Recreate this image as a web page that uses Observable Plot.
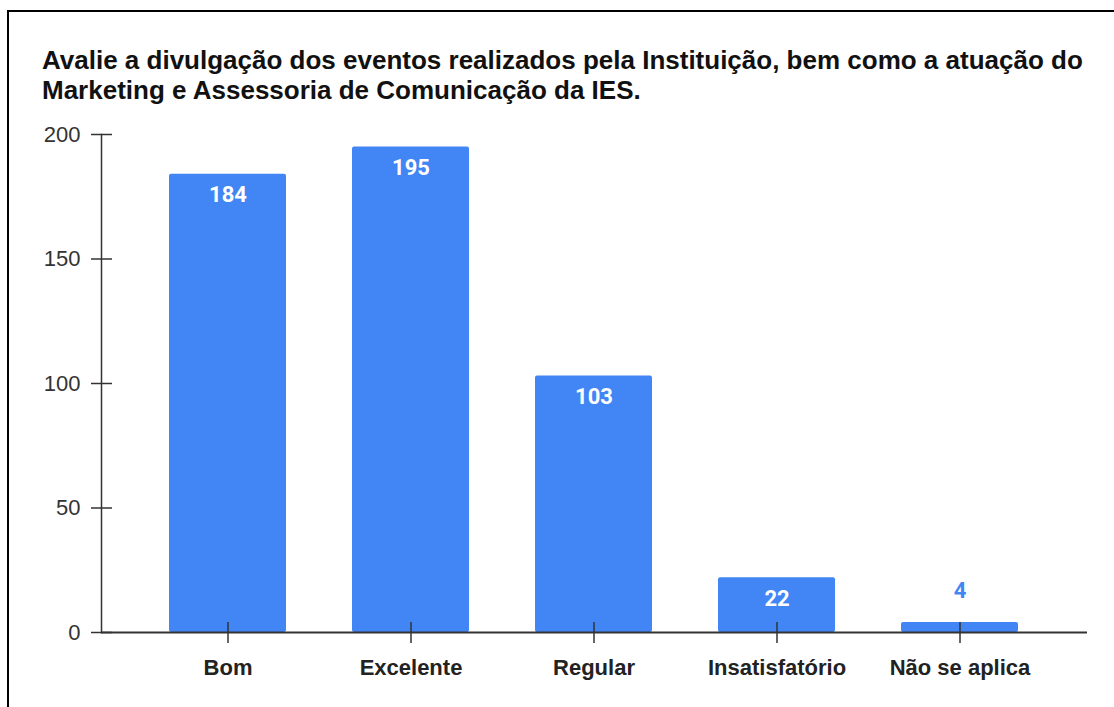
<!DOCTYPE html>
<html>
<head>
<meta charset="utf-8">
<script src="https://cdn.jsdelivr.net/npm/d3@7"></script>
<script src="https://cdn.jsdelivr.net/npm/@observablehq/plot@0.6"></script>
<style>
  html, body { margin: 0; padding: 0; background: #fff; }
  #wrap { position: relative; width: 1114px; height: 707px; overflow: hidden; background: #fff; }
  #bt { position: absolute; left: 7px; top: 10px; right: 0; height: 2px; background: #000; }
  #bl { position: absolute; left: 7px; top: 10px; bottom: 0; width: 2px; background: #000; }
  #title { position: absolute; left: 42px; top: 45px; font-family: "Liberation Sans", Arial, sans-serif; font-weight: bold; font-size: 26px; line-height: 30px; color: #111; white-space: nowrap; }
  #chart { position: absolute; left: 0; top: 0; }
</style>
</head>
<body>
<div id="wrap">
  <div id="bt"></div>
  <div id="bl"></div>
  <div id="title">Avalie a divulgação dos eventos realizados pela Instituição, bem como a atuação do<br>Marketing e Assessoria de Comunicação da IES.</div>
  <div id="chart"></div>
</div>
<script>
const categories = ["Bom", "Excelente", "Regular", "Insatisfatório", "Não se aplica"];
const values = [184, 195, 103, 22, 4];
const yTicks = [0, 50, 100, 150, 200];

const data = categories.map((c, i) => ({category: c, value: values[i]}));
const blue = "#4285F4";
const axisColor = "#333";

const chart = Plot.plot({
  width: 1114,
  height: 707,
  marginLeft: 101,
  marginRight: 27,
  marginTop: 134,
  marginBottom: 75,
  style: {fontFamily: "'Liberation Sans', Arial, sans-serif", background: "transparent", overflow: "visible"},
  x: {domain: categories, padding: 0.36},
  y: {domain: [0, 200]},
  marks: [
    Plot.barY(data, {x: "category", y: "value", fill: blue, rx: 2}),
    Plot.frame({anchor: "left", stroke: axisColor, strokeWidth: 1.5}),
    Plot.ruleY([0], {stroke: axisColor, strokeWidth: 2}),
    Plot.axisY({ticks: yTicks, tickSize: 21, dx: 11, text: null, stroke: axisColor, strokeWidth: 1.5, label: null}),
    Plot.axisY({ticks: yTicks, tickSize: 0, tickPadding: 21, fontSize: 22, fill: "#333", label: null}),
    Plot.axisX({tickSize: 21, dy: -10, text: null, stroke: axisColor, strokeWidth: 1.5, label: null}),
    Plot.axisX({tickSize: 0, tickPadding: 27, fontSize: 22, fontWeight: "bold", fill: "#222", label: null}),
    Plot.text(data.filter(d => d.value >= 10), {x: "category", y: "value", text: d => String(d.value), dy: 21, fill: "white", fontSize: 22, fontWeight: "bold", fontFamily: "Roboto, sans-serif"}),
    Plot.text(data.filter(d => d.value < 10), {x: "category", y: "value", text: d => String(d.value), dy: -32, fill: blue, fontSize: 22, fontWeight: "bold", fontFamily: "Roboto, sans-serif"})
  ]
});
document.getElementById("chart").appendChild(chart);
</script>
</body>
</html>
